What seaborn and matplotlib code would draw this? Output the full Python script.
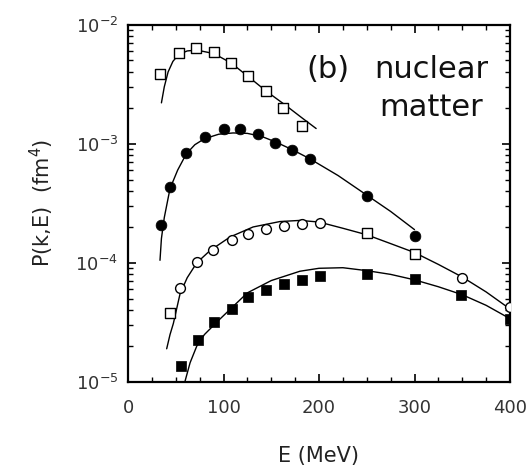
import numpy as np
import pandas as pd
import matplotlib
matplotlib.use("Agg")
import matplotlib.pyplot as plt
import matplotlib.ticker as mticker
import seaborn as sns

# ---- data points ----
sq_open_E = [34, 53, 71, 90, 108, 126, 144, 162, 182]
sq_open_P = [3.84e-3, 5.73e-3, 6.31e-3, 5.91e-3, 4.77e-3, 3.69e-3, 2.76e-3, 2.0e-3, 1.40e-3]

circ_fill_E = [35, 44, 61, 81, 100, 117, 136, 154, 172, 191, 250, 300]
circ_fill_P = [2.07e-4, 4.34e-4, 8.37e-4, 1.13e-3, 1.32e-3, 1.32e-3, 1.2e-3, 1.02e-3, 8.8e-4, 7.5e-4, 3.64e-4, 1.67e-4]

circ_open_E = [54, 72, 89, 109, 126, 145, 163, 182, 201, 350, 400]
circ_open_P = [6.2e-5, 1.02e-4, 1.29e-4, 1.55e-4, 1.76e-4, 1.94e-4, 2.03e-4, 2.1e-4, 2.14e-4, 7.5e-5, 4.26e-5]

sq_open2_E = [44, 250, 300]
sq_open2_P = [3.78e-5, 1.78e-4, 1.19e-4]

sq_fill_E = [55, 73, 90, 109, 126, 145, 163, 182, 201, 250, 300, 349, 400]
sq_fill_P = [1.35e-5, 2.23e-5, 3.18e-5, 4.12e-5, 5.16e-5, 5.96e-5, 6.69e-5, 7.13e-5, 7.7e-5, 8.0e-5, 7.36e-5, 5.33e-5, 3.4e-5]

# ---- theory curves ----
c1_E = [35, 38, 42, 47, 53, 62, 72, 90, 108, 126, 145, 165, 182, 197]
c1_P = [2.2e-3, 3.0e-3, 4.0e-3, 4.9e-3, 5.6e-3, 6.0e-3, 6.1e-3, 5.7e-3, 4.75e-3, 3.65e-3, 2.75e-3, 2.1e-3, 1.65e-3, 1.34e-3]

c2_E = [33.5, 35, 38, 44, 52, 61, 70, 80, 95, 110, 125, 140, 155, 172, 190, 220, 250, 275, 300]
c2_P = [1.05e-4, 1.6e-4, 2.4e-4, 4.2e-4, 6.0e-4, 8.2e-4, 9.8e-4, 1.1e-3, 1.2e-3, 1.23e-3, 1.22e-3, 1.15e-3, 1.03e-3, 8.9e-4, 7.5e-4, 5.4e-4, 3.7e-4, 2.7e-4, 1.9e-4]

c3_E = [40.5, 44, 47.5, 54.5, 62, 72, 86, 107, 131, 159, 180, 200, 225, 250, 275, 300, 325, 350, 375, 400]
c3_P = [1.9e-5, 2.5e-5, 3.1e-5, 5.5e-5, 7.5e-5, 1.0e-4, 1.27e-4, 1.65e-4, 2.0e-4, 2.22e-4, 2.27e-4, 2.2e-4, 1.95e-4, 1.72e-4, 1.45e-4, 1.22e-4, 9.7e-5, 7.6e-5, 5.7e-5, 4.1e-5]

c4_E = [59.5, 65, 72, 80, 95, 110, 125, 150, 180, 200, 225, 250, 275, 300, 325, 350, 375, 400]
c4_P = [1.0e-5, 1.45e-5, 2.0e-5, 2.5e-5, 3.3e-5, 4.3e-5, 5.6e-5, 7.1e-5, 8.5e-5, 9.0e-5, 9.1e-5, 8.6e-5, 8.0e-5, 7.2e-5, 6.3e-5, 5.4e-5, 4.4e-5, 3.4e-5]

x_ticks = [0, 100, 200, 300, 400]
y_ticks = [1e-5, 1e-4, 1e-3, 1e-2]
y_ticklabels = [r"$10^{-5}$", r"$10^{-4}$", r"$10^{-3}$", r"$10^{-2}$"]

sns.set_style("ticks")
plt.rcParams["font.family"] = ["DejaVu Sans"]
plt.rcParams["mathtext.fontset"] = "dejavusans"

fig = plt.figure(figsize=(5.32, 4.75), dpi=100)
ax = fig.add_axes([128 / 532, 1 - 382 / 475, (510 - 128) / 532, (382 - 24.5) / 475])

for E, P in [(c1_E, c1_P), (c2_E, c2_P), (c3_E, c3_P), (c4_E, c4_P)]:
    sns.lineplot(x=E, y=P, ax=ax, color="black", linewidth=1.0, sort=False)

sns.scatterplot(x=sq_open_E, y=sq_open_P, ax=ax, marker="s", s=55,
                facecolor="white", edgecolor="black", linewidth=1.0, zorder=3)
sns.scatterplot(x=circ_fill_E, y=circ_fill_P, ax=ax, marker="o", s=60,
                color="black", edgecolor="black", linewidth=0.5, zorder=3)
sns.scatterplot(x=circ_open_E, y=circ_open_P, ax=ax, marker="o", s=50,
                facecolor="white", edgecolor="black", linewidth=1.0, zorder=3)
sns.scatterplot(x=sq_open2_E, y=sq_open2_P, ax=ax, marker="s", s=45,
                facecolor="white", edgecolor="black", linewidth=1.0, zorder=3)
sns.scatterplot(x=sq_fill_E, y=sq_fill_P, ax=ax, marker="s", s=50,
                color="black", edgecolor="black", linewidth=0.5, zorder=3)

ax.set_yscale("log")
ax.set_xlim(0, 400)
ax.set_ylim(1e-5, 1e-2)
ax.set_xticks(x_ticks)
ax.xaxis.set_minor_locator(mticker.MultipleLocator(25))
ax.set_yticks(y_ticks)
ax.set_yticklabels(y_ticklabels)
ax.yaxis.set_minor_locator(mticker.LogLocator(base=10, subs=np.arange(2, 10)))
ax.yaxis.set_minor_formatter(mticker.NullFormatter())

ax.tick_params(which="both", direction="in", top=True, right=True, color="black")
ax.tick_params(which="major", length=6, width=1.2, labelsize=13, labelcolor="#333333")
ax.tick_params(axis="x", which="major", pad=12)
ax.tick_params(axis="y", which="major", pad=7)
ax.tick_params(which="minor", length=3.5, width=1.0)
for sp in ax.spines.values():
    sp.set_linewidth(1.6)
    sp.set_color("black")

ax.set_xlabel("E (MeV)", fontsize=15, color="#222222", labelpad=21)
ax.set_ylabel(r"P(k,E)  (fm$^4$)", fontsize=15, color="#222222", labelpad=14)

fig.text(306 / 532, 1 - 70 / 475, "(b)", fontsize=22, ha="left", va="center", color="#111111")
fig.text(431 / 532, 1 - 70 / 475, "nuclear", fontsize=22, ha="center", va="center", color="#111111")
fig.text(431 / 532, 1 - 107 / 475, "matter", fontsize=22, ha="center", va="center", color="#111111")

fig.savefig("out.png", dpi=100)
